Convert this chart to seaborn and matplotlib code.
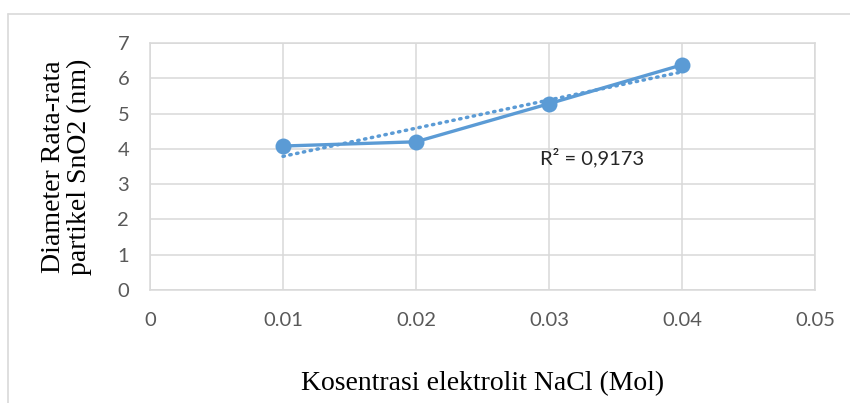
import numpy as np
import pandas as pd
import matplotlib
matplotlib.use("Agg")
import matplotlib.pyplot as plt
from matplotlib.lines import Line2D
import seaborn as sns

# data
konsentrasi = [0.01, 0.02, 0.03, 0.04]
diameter = [4.08, 4.20, 5.28, 6.38]
x_ticks = [0, 0.01, 0.02, 0.03, 0.04, 0.05]
x_ticklabels = ["0", "0.01", "0.02", "0.03", "0.04", "0.05"]
y_ticks = [0, 1, 2, 3, 4, 5, 6, 7]

df = pd.DataFrame({"x": konsentrasi, "y": diameter})

sns.set_theme(style="white")
plt.rcParams["font.family"] = ["Lato", "DejaVu Sans"]

blue = "#5B9BD5"
grid = "#D9D9D9"

fig = plt.figure(figsize=(8.5, 4.03), dpi=100)
ax = fig.add_axes([150 / 850, 1 - 290 / 403, 665 / 850, 247 / 403])

# trend line (linear) first, then the data line on top
sns.regplot(data=df, x="x", y="y", ax=ax, scatter=False, ci=None, truncate=True,
            line_kws=dict(color=blue, lw=2.5, linestyle=(0, (0.4, 1.6)),
                          dash_capstyle="round", zorder=3))
sns.lineplot(data=df, x="x", y="y", ax=ax, color=blue, lw=2.4, marker="o",
             markersize=11.5, markeredgewidth=0, zorder=4)

ax.text(0.0293, 3.74, "R² = 0,9173", fontsize=14.5,
        color="#262626", va="center", ha="left")

ax.set_xlim(0, 0.05)
ax.set_ylim(0, 7)
ax.set_xticks(x_ticks)
ax.set_xticklabels(x_ticklabels)
ax.set_yticks(y_ticks)
ax.tick_params(axis="both", length=0, labelsize=14.5, labelcolor="#595959")
ax.tick_params(axis="x", pad=16)
ax.tick_params(axis="y", pad=15)
ax.grid(True, color=grid, lw=1.1)
for s in ax.spines.values():
    s.set_color(grid)
    s.set_linewidth(1.1)

ax.set_xlabel("Kosentrasi elektrolit NaCl (Mol)", family="Liberation Serif",
              fontsize=20, color="black")
ax.xaxis.set_label_coords(0.5, -0.33)
ax.set_ylabel("Diameter Rata-rata\npartikel SnO2 (nm)", family="Liberation Serif",
              fontsize=20, color="black", linespacing=1.05)
ax.yaxis.set_label_coords(-0.087, 0.5)

# outer chart frame
fig.add_artist(Line2D([8 / 850, 8 / 850], [0, 1 - 14 / 403], color=grid, lw=1.2))
fig.add_artist(Line2D([8 / 850, 1], [1 - 14 / 403, 1 - 14 / 403], color=grid, lw=1.2))

fig.savefig("out.png", dpi=100)
